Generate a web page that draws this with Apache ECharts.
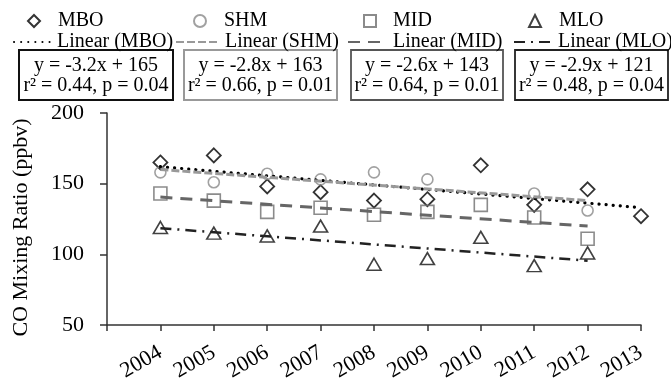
<!DOCTYPE html>
<html>
<head>
<meta charset="utf-8">
<script src="https://cdn.jsdelivr.net/npm/echarts@6/dist/echarts.min.js"></script>
<style>
  html,body{margin:0;padding:0;background:#fff;}
  #chart{width:671px;height:384px;}
</style>
</head>
<body>
<div id="chart"></div>
<script>
// values
let years = [2004,2005,2006,2007,2008,2009,2010,2011,2012,2013];
let mbo = [165,170,148,144,138,139,163,135,146,127];
let shm = [158,151,157,153,158,153,null,143,131];
let mid = [143,138,130,133,128,130,135,126,111];
let mlo = [119,115,113,120,93,97,112,92,101];
// trend line ends [first year, last year]
let mboFit = [162,133];
let shmFit = [160,138];
let midFit = [140.5,120];
let mloFit = [118.5,95.5];
let fitYears = [[2004,2013],[2004,2012],[2004,2012],[2004,2012]];
let eqText = ['y = -3.2x + 165','y = -2.8x + 163','y = -2.6x + 143','y = -2.9x + 121'];
let statText = ['r\u00b2 = 0.44, p = 0.04','r\u00b2 = 0.66, p = 0.01','r\u00b2 = 0.64, p = 0.01','r\u00b2 = 0.48, p = 0.04'];

const FONT = '"Liberation Serif","Times New Roman",serif';

function pts(vals){
  return vals.map((v,i)=>[years[i],v]);
}
function fit(ends,k){
  return [[fitYears[k][0],ends[0]],[fitYears[k][1],ends[1]]];
}

let chart = echarts.init(document.getElementById('chart'));

// equation boxes
let boxes = [
  {x:19,w:154,c:'#111',lw:2},
  {x:184,w:153,c:'#999',lw:2},
  {x:351,w:152,c:'#555',lw:1.8},
  {x:515,w:153,c:'#222',lw:1.8}
];
let graphic = [];
boxes.forEach((b,i)=>{
  graphic.push({type:'rect',shape:{x:b.x,y:50,width:b.w,height:50},
    style:{fill:'#fff',stroke:b.c,lineWidth:b.lw}});
  graphic.push({type:'text',x:b.x+b.w/2,y:76,
    style:{text:eqText[i]+'\n'+statText[i],align:'center',verticalAlign:'middle',
      font:'20px '+FONT,lineHeight:20,fill:'#000'}});
});

function lg(name,left,top,w,pad,isLine){
  let o = {data:[name],left:left,top:top,padding:0,itemWidth:w,itemHeight:12,
    selectedMode:false,
    textStyle:{fontFamily:FONT,fontSize:20,color:'#000',padding:[0,0,0,pad]}};
  if(isLine){
    // hide the little symbol that line legends draw in the middle
    o.itemStyle = {color:'rgba(0,0,0,0)',borderWidth:0,opacity:0};
  }
  return o;
}

let lineBase = {type:'line',symbol:'none',showSymbol:false,z:5,silent:true};

chart.setOption({
  animation:false,
  textStyle:{fontFamily:FONT},
  legend:[
    lg('MBO',27,11,12,13),
    lg('SHM',193,11,12,13),
    lg('MID',363,11,12,12),
    lg('MLO',528,11,12,13),
    lg('Linear (MBO)',13,32,38,0,true),
    lg('Linear (SHM)',175,32,44,0,true),
    lg('Linear (MID)',347,32,40,0,true),
    lg('Linear (MLO)',513,32,39,0,true)
  ],
  graphic:graphic,
  grid:{left:107,right:30,top:113,bottom:59},
  xAxis:{
    type:'value',min:2003,max:2013,interval:1,
    axisLine:{lineStyle:{color:'#333',width:1.5}},
    axisTick:{show:true,length:6,lineStyle:{color:'#333',width:1.5}},
    splitLine:{show:false},
    axisLabel:{
      rotate:30,margin:26,fontSize:22,color:'#000',fontFamily:FONT,
      formatter:(v)=>v==2003?'':String(v)
    }
  },
  yAxis:{
    type:'value',min:50,max:200,interval:50,
    name:'CO Mixing Ratio (ppbv)',nameLocation:'middle',nameGap:75,
    nameTextStyle:{fontSize:22,color:'#000',fontFamily:FONT,padding:[0,17,0,0]},
    axisLine:{show:true,lineStyle:{color:'#333',width:1.5}},
    axisTick:{show:true,length:7,lineStyle:{color:'#333',width:1.5}},
    splitLine:{show:false},
    axisLabel:{margin:23,fontSize:22,color:'#000',fontFamily:FONT}
  },
  series:[
    {name:'MBO',type:'scatter',symbol:'diamond',symbolSize:14,data:pts(mbo),
      itemStyle:{color:'rgba(0,0,0,0)',borderColor:'#000',borderWidth:1.8}},
    {name:'SHM',type:'scatter',symbol:'circle',symbolSize:11,data:pts(shm),
      itemStyle:{color:'rgba(0,0,0,0)',borderColor:'#8a8a8a',borderWidth:1.6}},
    {name:'MID',type:'scatter',symbol:'rect',symbolSize:13,data:pts(mid),
      itemStyle:{color:'rgba(0,0,0,0)',borderColor:'#6e6e6e',borderWidth:1.6}},
    {name:'MLO',type:'scatter',symbol:'triangle',symbolSize:[14,12],data:pts(mlo),
      itemStyle:{color:'rgba(0,0,0,0)',borderColor:'#111',borderWidth:1.6}},
    Object.assign({},lineBase,{name:'Linear (MBO)',data:fit(mboFit,0),
      itemStyle:{color:'#000'},
      lineStyle:{color:'#000',width:3.2,type:[0.1,7],cap:'round'}}),
    Object.assign({},lineBase,{name:'Linear (SHM)',data:fit(shmFit,1),
      itemStyle:{color:'#999'},
      lineStyle:{color:'#999',width:3,type:[8,3]}}),
    Object.assign({},lineBase,{name:'Linear (MID)',data:fit(midFit,2),
      itemStyle:{color:'#666'},
      lineStyle:{color:'#666',width:3,type:[12,8]}}),
    Object.assign({},lineBase,{name:'Linear (MLO)',data:fit(mloFit,3),
      itemStyle:{color:'#222'},
      lineStyle:{color:'#222',width:2.5,type:[11,6,2,6]}})
  ]
});
</script>
</body>
</html>
